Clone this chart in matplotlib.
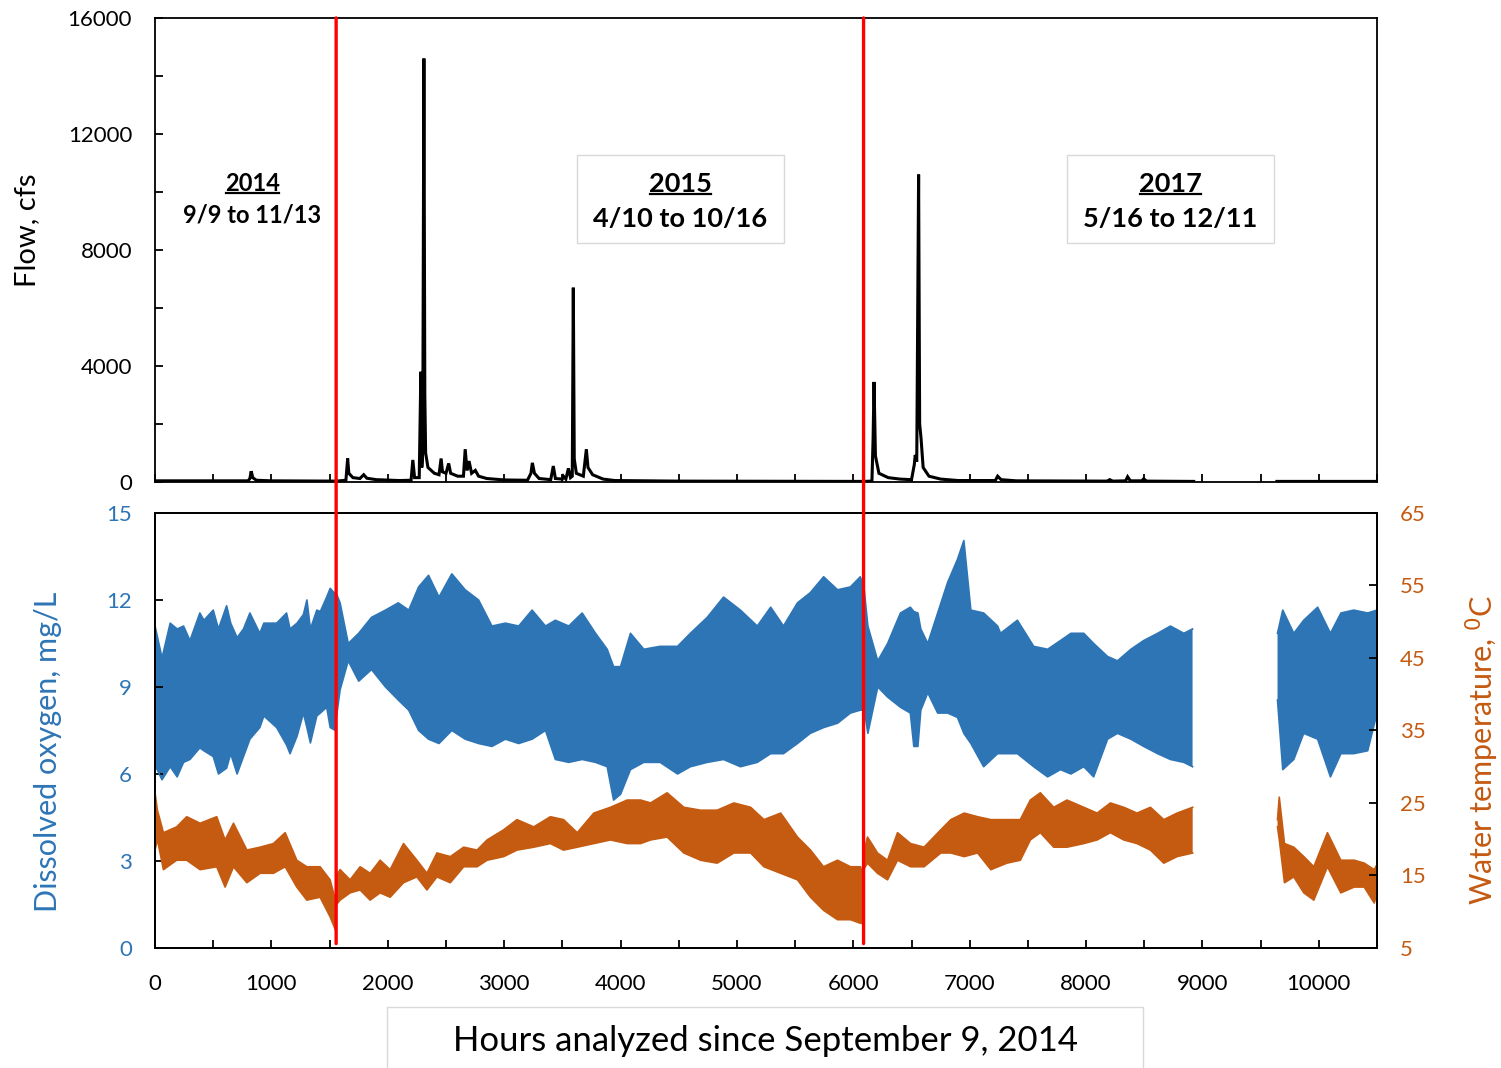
import numpy as np
import matplotlib
matplotlib.use("Agg")
import matplotlib.pyplot as plt
from matplotlib.patches import Rectangle, ConnectionPatch
from matplotlib.lines import Line2D

plt.rcParams['font.family'] = ['Lato', 'DejaVu Sans']

nan = np.nan

# ---- flow record (hours since 9/9/2014, cfs); NaN = no data
flow_hours = [0, 800, 815, 826, 840, 870, 1000, 1556,
              1560, 1640, 1655, 1665, 1700, 1760, 1793, 1820, 1900, 2100, 2200, 2215, 2230, 2270,
              2284, 2292, 2300, 2310, 2318, 2325, 2345, 2400, 2440, 2458, 2470, 2500, 2523, 2540,
              2600, 2650, 2665, 2680, 2698, 2720, 2752, 2780, 2850, 3000, 3200, 3230, 3242, 3260,
              3300, 3400, 3422, 3440, 3500, 3509, 3530, 3552, 3570, 3585, 3594, 3602, 3620, 3680,
              3706, 3720, 3760, 3850, 3950, 4500, 6088,
              6090, 6160, 6170, 6178, 6190, 6220, 6300, 6400, 6500, 6524, 6532, 6545, 6561, 6570,
              6582, 6600, 6650, 6750, 6900, 7220, 7240, 7270, 7400, 8180, 8203, 8230, 8340, 8357,
              8380, 8480, 8495, 8520, 8925, 8926,
              9640, 10500]
flow_cfs = [40, 40, 120, 370, 150, 60, 40, 30,
            30, 60, 810, 300, 150, 120, 250, 130, 80, 50, 60, 760, 150, 150,
            3800, 500, 1000, 14600, 3000, 1000, 500, 300, 250, 810, 350, 300, 640, 300,
            200, 200, 1130, 400, 720, 300, 400, 200, 120, 70, 60, 300, 660, 300,
            120, 80, 550, 120, 100, 200, 100, 470, 150, 200, 6700, 800, 300, 200,
            1130, 500, 250, 100, 50, 30, 20,
            20, 30, 1500, 3450, 900, 300, 150, 100, 80, 600, 930, 700, 10600, 2000,
            1500, 500, 200, 100, 50, 50, 200, 80, 40, 30, 80, 30, 40, 180,
            40, 40, 110, 30, 20, nan,
            20, 20]

# ---- dissolved oxygen, daily high / low envelope (mg/L)
do_hours = [0, 60, 130, 190, 245, 300, 385, 420, 500, 545, 615, 650, 705, 760, 815, 900, 935,
            1045, 1130, 1160, 1220, 1275, 1305, 1335, 1390, 1420, 1475, 1505, 1550, 1555,
            1560, 1590, 1660, 1750, 1860, 1980, 2090, 2180, 2265, 2350, 2440, 2550, 2665, 2780,
            2895, 3010, 3125, 3240, 3355, 3440, 3555, 3670, 3785, 3885, 3940, 4000, 4085, 4200,
            4340, 4490, 4600, 4745, 4885, 5030, 5175, 5290, 5400, 5520, 5630, 5745, 5865, 5975,
            6060, 6085, 6090,
            6095, 6125, 6210, 6295, 6405, 6490, 6520, 6555, 6580, 6640, 6725, 6810, 6895, 6950,
            7010, 7120, 7240, 7265, 7410, 7550, 7670, 7780, 7870, 7980, 8065, 8185, 8270, 8385,
            8495, 8615, 8725, 8840, 8915, 8920,
            9645, 9690, 9785, 9870, 9990, 10100, 10190, 10300, 10420, 10500]
do_high = [11.1, 10.0, 11.2, 11.0, 11.1, 10.6, 11.55, 11.3, 11.65, 11.0, 11.8, 11.2, 10.7, 11.0,
           11.55, 10.85, 11.2, 11.2, 11.55, 11.0, 11.2, 11.5, 12.0, 11.0, 11.65, 11.6, 12.1,
           12.4, 12.2, nan,
           12.2, 11.9, 10.5, 10.85, 11.4, 11.65, 11.9, 11.65, 12.45, 12.85, 12.1, 12.9, 12.35,
           12.0, 11.1, 11.2, 11.1, 11.65, 11.1, 11.3, 11.1, 11.55, 10.85, 10.3, 9.7, 9.7, 10.85,
           10.3, 10.4, 10.4, 10.85, 11.4, 12.1, 11.65, 11.1, 11.75, 11.1, 11.9, 12.25, 12.8,
           12.35, 12.45, 12.8, 12.5, nan,
           12.3, 11.1, 9.9, 10.5, 11.55, 11.75, 11.6, 11.55, 11.0, 10.5, 11.55, 12.6, 13.4,
           14.05, 11.65, 11.55, 11.1, 10.85, 11.3, 10.4, 10.3, 10.6, 10.85, 10.85, 10.5, 10.05,
           9.9, 10.3, 10.6, 10.85, 11.1, 10.85, 11.0, nan,
           10.85, 11.65, 10.85, 11.3, 11.75, 10.85, 11.55, 11.65, 11.55, 11.65]
do_low = [6.3, 5.8, 6.25, 5.9, 6.4, 6.5, 6.9, 6.8, 6.6, 6.0, 6.2, 6.7, 6.0, 6.6, 7.2, 7.6, 8.0,
          7.6, 7.0, 6.7, 7.3, 8.1, 7.6, 7.07, 8.0, 8.1, 8.3, 7.6, 7.5, nan,
          8.0, 8.9, 9.9, 9.2, 9.6, 9.0, 8.55, 8.2, 7.5, 7.2, 7.05, 7.5, 7.2, 7.05, 6.95, 7.2,
          7.05, 7.2, 7.5, 6.5, 6.4, 6.5, 6.4, 6.25, 5.1, 5.3, 6.15, 6.4, 6.4, 6.0, 6.25, 6.4,
          6.5, 6.25, 6.4, 6.7, 6.7, 7.05, 7.4, 7.6, 7.75, 8.1, 8.2, 8.2, nan,
          8.2, 7.4, 9.0, 8.65, 8.3, 8.1, 6.95, 6.95, 8.2, 8.8, 8.1, 8.1, 7.95, 7.4, 7.05, 6.25,
          6.7, 6.7, 6.7, 6.25, 5.9, 6.15, 6.0, 6.25, 5.9, 7.2, 7.4, 7.2, 6.95, 6.7, 6.5, 6.4,
          6.25, nan,
          8.55, 6.15, 6.5, 7.4, 7.2, 5.9, 6.7, 6.7, 6.8, 8.1]

# ---- water temperature, daily high / low envelope (deg C)
wt_hours = [0, 20, 72, 186, 272, 387, 530, 602, 674, 789, 903, 1017, 1118, 1218, 1304, 1418,
            1504, 1550, 1555,
            1560, 1590, 1676, 1762, 1848, 1934, 2020, 2135, 2250, 2336, 2422, 2537, 2652, 2767,
            2853, 2996, 3110, 3254, 3397, 3510, 3628, 3770, 3913, 4057, 4172, 4258, 4400, 4544,
            4688, 4830, 4974, 5118, 5232, 5376, 5520, 5632, 5744, 5864, 5976, 6062, 6085, 6090,
            6095, 6122, 6208, 6294, 6380, 6492, 6608, 6752, 6838, 6953, 7068, 7182, 7320, 7435,
            7521, 7607, 7722, 7836, 7980, 8095, 8209, 8324, 8438, 8553, 8668, 8782, 8916, 8920,
            9645, 9660, 9705, 9785, 9871, 9957, 10074, 10189, 10304, 10390, 10476, 10500]
wt_high = [26.4, 24.0, 20.9, 21.7, 23.1, 22.2, 23.1, 19.9, 22.2, 18.5, 18.9, 19.4, 20.9, 17.1,
           16.2, 16.2, 14.4, 11.6, nan,
           15.0, 15.8, 14.4, 16.2, 15.3, 17.1, 15.8, 19.4, 17.1, 15.3, 18.1, 17.6, 18.9, 18.5,
           19.9, 21.3, 22.7, 21.7, 23.1, 22.7, 20.9, 23.6, 24.4, 25.4, 25.4, 25.0, 26.4, 24.4,
           24.0, 24.0, 25.0, 24.4, 22.7, 23.6, 20.3, 18.5, 16.2, 17.1, 16.2, 16.2, 15.0, nan,
           18.5, 20.3, 18.1, 17.1, 20.9, 19.4, 18.9, 21.3, 22.7, 23.6, 23.1, 22.7, 22.7, 22.7,
           25.4, 26.4, 24.4, 25.4, 24.4, 23.6, 25.0, 24.4, 23.6, 24.4, 22.7, 23.6, 24.4, nan,
           22.7, 25.8, 19.4, 18.9, 17.6, 16.2, 20.9, 17.1, 17.1, 16.7, 15.8, 16.5]
wt_low = [18.5, 20.0, 15.8, 17.1, 17.1, 15.8, 16.2, 13.4, 16.2, 14.0, 15.3, 15.3, 16.2, 13.4,
          11.6, 12.0, 9.3, 7.5, nan,
          11.0, 11.6, 12.6, 13.0, 11.6, 12.6, 12.0, 14.0, 14.8, 13.0, 14.8, 14.0, 16.2, 16.2,
          17.1, 17.6, 18.5, 18.9, 19.4, 18.5, 18.9, 19.4, 19.9, 19.4, 19.4, 19.9, 20.3, 18.1,
          17.1, 16.7, 18.1, 18.1, 16.2, 15.3, 14.4, 12.0, 10.2, 8.9, 8.9, 8.4, 8.4, nan,
          16.0, 16.7, 15.3, 14.4, 17.1, 16.2, 16.2, 18.1, 18.1, 17.6, 18.1, 15.8, 16.7, 17.1,
          19.9, 20.9, 18.9, 18.9, 19.4, 19.9, 20.9, 19.9, 19.4, 18.5, 16.7, 17.6, 18.1, nan,
          21.7, 20.0, 14.0, 14.8, 12.6, 11.6, 16.2, 12.6, 13.4, 13.4, 11.2, 12.5]

# boundaries between the monitoring periods (hours)
period_breaks = [1556, 6088]
period_years = ['2014', '2015', '2017']
period_dates = ['9/9 to 11/13', '4/10 to 10/16', '5/16 to 12/11']

flow_ticks = [0, 2000, 4000, 6000, 8000, 10000, 12000, 14000, 16000]
do_ticks = [0, 3, 6, 9, 12, 15]
wt_ticks = [5, 15, 25, 35, 45, 55, 65]
hour_ticks = np.arange(0, 10501, 500)

BLUE = '#2E75B6'
ORANGE = '#C55A11'

fig = plt.figure(figsize=(15.01, 10.68), dpi=100)
ax1 = fig.add_axes([0.1033, 0.5487, 0.8141, 0.4345])
ax2 = fig.add_axes([0.1033, 0.1124, 0.8141, 0.4073])
ax3 = ax2.twinx()

# flow panel
ax1.plot(flow_hours, flow_cfs, color='black', lw=2.2, solid_joinstyle='miter')
ax1.set_xlim(0, 10500)
ax1.set_ylim(0, 16000)
ax1.set_yticks(flow_ticks)
ax1.set_yticklabels([str(t) if t % 4000 == 0 else '' for t in flow_ticks])
ax1.set_xticks(hour_ticks)
ax1.tick_params(axis='x', labelbottom=False)
ax1.set_ylabel('Flow, cfs', fontsize=21)
ax1.yaxis.set_label_coords(-0.094, 0.543)

# DO and temperature panel
do_h = np.array(do_hours, float)
ax2.fill_between(do_h, do_low, do_high, color=BLUE, lw=0)
ax2.plot(do_h, do_high, color=BLUE, lw=1.2)
ax2.plot(do_h, do_low, color=BLUE, lw=1.2)
ax2.set_xlim(0, 10500)
ax2.set_ylim(0, 15)
ax2.set_yticks(do_ticks)
ax2.set_xticks(hour_ticks)
ax2.set_xticklabels([str(t) if t % 1000 == 0 else '' for t in hour_ticks])
ax2.set_ylabel('Dissolved oxygen, mg/L', fontsize=22, color=BLUE)
ax2.yaxis.set_label_coords(-0.076, 0.45)

wt_h = np.array(wt_hours, float)
ax3.fill_between(wt_h, wt_low, wt_high, color=ORANGE, lw=0)
ax3.plot(wt_h, wt_high, color=ORANGE, lw=1.2)
ax3.plot(wt_h, wt_low, color=ORANGE, lw=1.2)
ax3.set_ylim(5, 65)
ax3.set_yticks(wt_ticks)
ax3.set_ylabel('Water temperature, $^{\\mathsf{0}}$C', fontsize=22, color=ORANGE)
ax3.yaxis.set_label_coords(1.071, 0.455)

for ax in (ax1, ax2, ax3):
    ax.tick_params(direction='in', length=6, width=1.3, labelsize=16, pad=16.5)
    for s in ax.spines.values():
        s.set_linewidth(1.3)
ax2.tick_params(axis='y', labelcolor=BLUE)
ax3.tick_params(axis='y', labelcolor=ORANGE)
ax2.tick_params(axis='x', pad=19)

# period separators drawn through both panels
for h in period_breaks:
    con = ConnectionPatch(xyA=(h, 16000), coordsA=ax1.transData,
                          xyB=(h, 0.15), coordsB=ax2.transData,
                          color='#FF0000', lw=2.4, zorder=10)
    fig.add_artist(con)

# period labels
label_x = [0.0794, 0.430, 0.831]
label_size = [17, 19.5, 19.5]
date_y = [0.575, 0.567, 0.567]
year_texts = []
for i, (yr, dt) in enumerate(zip(period_years, period_dates)):
    t1 = ax1.text(label_x[i], 0.643, yr, transform=ax1.transAxes, ha='center', va='center',
                  fontsize=label_size[i], fontweight='bold')
    ax1.text(label_x[i], date_y[i], dt, transform=ax1.transAxes, ha='center', va='center',
             fontsize=label_size[i], fontweight='bold')
    year_texts.append(t1)
    if i > 0:
        ax1.add_patch(Rectangle((label_x[i] - 0.0847, 0.5151), 0.1694, 0.1885,
                                transform=ax1.transAxes, facecolor='white',
                                edgecolor='#D9D9D9', lw=1, zorder=1))

# x-axis title in its own box
fig.add_artist(Rectangle((0.2578, -0.01), 0.5037, 0.0671, transform=fig.transFigure,
                         facecolor='white', edgecolor='#D9D9D9', lw=1))
fig.text(0.5097, 0.0255, 'Hours analyzed since September 9, 2014', ha='center', va='center',
         fontsize=25)

# underline the year headings
fig.canvas.draw()
for t in year_texts:
    bb = t.get_window_extent()
    fig.add_artist(Line2D([bb.x0 + 1, bb.x1 - 1], [bb.y0 + 2, bb.y0 + 2], color='black', lw=1.6,
                          transform=None))

fig.savefig('out.png', dpi=100)
